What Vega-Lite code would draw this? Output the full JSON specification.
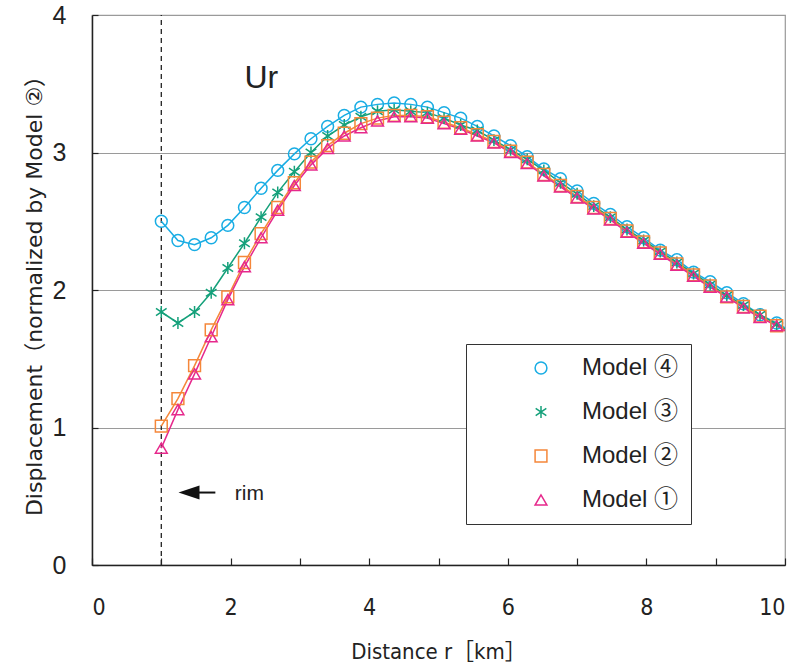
{
  "$schema": "https://vega.github.io/schema/vega-lite/v6.json",
  "width": 693,
  "height": 550,
  "autosize": {"type": "none"},
  "padding": {"left": 92, "top": 15, "right": 26, "bottom": 105},
  "background": "white",
  "datasets": {
    "ur": [
      {"r": 1.00, "Model ④": 2.50, "Model ③": 1.84, "Model ②": 1.01, "Model ①": 0.85},
      {"r": 1.24, "Model ④": 2.36, "Model ③": 1.76, "Model ②": 1.21, "Model ①": 1.13},
      {"r": 1.48, "Model ④": 2.33, "Model ③": 1.84, "Model ②": 1.45, "Model ①": 1.39},
      {"r": 1.72, "Model ④": 2.38, "Model ③": 1.98, "Model ②": 1.71, "Model ①": 1.66},
      {"r": 1.96, "Model ④": 2.47, "Model ③": 2.16, "Model ②": 1.95, "Model ①": 1.93},
      {"r": 2.20, "Model ④": 2.60, "Model ③": 2.34, "Model ②": 2.20, "Model ①": 2.17},
      {"r": 2.44, "Model ④": 2.74, "Model ③": 2.53, "Model ②": 2.41, "Model ①": 2.38},
      {"r": 2.68, "Model ④": 2.87, "Model ③": 2.71, "Model ②": 2.60, "Model ①": 2.58},
      {"r": 2.92, "Model ④": 2.99, "Model ③": 2.86, "Model ②": 2.78, "Model ①": 2.76},
      {"r": 3.16, "Model ④": 3.10, "Model ③": 3.00, "Model ②": 2.93, "Model ①": 2.91},
      {"r": 3.40, "Model ④": 3.19, "Model ③": 3.12, "Model ②": 3.05, "Model ①": 3.03},
      {"r": 3.64, "Model ④": 3.27, "Model ③": 3.20, "Model ②": 3.14, "Model ①": 3.12},
      {"r": 3.88, "Model ④": 3.33, "Model ③": 3.26, "Model ②": 3.21, "Model ①": 3.18},
      {"r": 4.12, "Model ④": 3.35, "Model ③": 3.30, "Model ②": 3.25, "Model ①": 3.23},
      {"r": 4.36, "Model ④": 3.36, "Model ③": 3.31, "Model ②": 3.27, "Model ①": 3.26},
      {"r": 4.60, "Model ④": 3.35, "Model ③": 3.30, "Model ②": 3.27, "Model ①": 3.26},
      {"r": 4.84, "Model ④": 3.33, "Model ③": 3.29, "Model ②": 3.26, "Model ①": 3.25},
      {"r": 5.08, "Model ④": 3.29, "Model ③": 3.25, "Model ②": 3.22, "Model ①": 3.21},
      {"r": 5.32, "Model ④": 3.25, "Model ③": 3.20, "Model ②": 3.18, "Model ①": 3.17},
      {"r": 5.56, "Model ④": 3.19, "Model ③": 3.16, "Model ②": 3.13, "Model ①": 3.12},
      {"r": 5.80, "Model ④": 3.12, "Model ③": 3.09, "Model ②": 3.08, "Model ①": 3.07},
      {"r": 6.04, "Model ④": 3.05, "Model ③": 3.02, "Model ②": 3.01, "Model ①": 3.00},
      {"r": 6.28, "Model ④": 2.97, "Model ③": 2.95, "Model ②": 2.93, "Model ①": 2.92},
      {"r": 6.52, "Model ④": 2.88, "Model ③": 2.87, "Model ②": 2.84, "Model ①": 2.83},
      {"r": 6.76, "Model ④": 2.81, "Model ③": 2.78, "Model ②": 2.76, "Model ①": 2.75},
      {"r": 7.00, "Model ④": 2.72, "Model ③": 2.70, "Model ②": 2.68, "Model ①": 2.67},
      {"r": 7.24, "Model ④": 2.63, "Model ③": 2.61, "Model ②": 2.60, "Model ①": 2.59},
      {"r": 7.48, "Model ④": 2.55, "Model ③": 2.53, "Model ②": 2.52, "Model ①": 2.51},
      {"r": 7.72, "Model ④": 2.46, "Model ③": 2.44, "Model ②": 2.43, "Model ①": 2.42},
      {"r": 7.96, "Model ④": 2.38, "Model ③": 2.36, "Model ②": 2.35, "Model ①": 2.34},
      {"r": 8.20, "Model ④": 2.29, "Model ③": 2.28, "Model ②": 2.27, "Model ①": 2.26},
      {"r": 8.44, "Model ④": 2.22, "Model ③": 2.20, "Model ②": 2.19, "Model ①": 2.18},
      {"r": 8.68, "Model ④": 2.13, "Model ③": 2.12, "Model ②": 2.11, "Model ①": 2.10},
      {"r": 8.92, "Model ④": 2.06, "Model ③": 2.04, "Model ②": 2.03, "Model ①": 2.02},
      {"r": 9.16, "Model ④": 1.98, "Model ③": 1.96, "Model ②": 1.95, "Model ①": 1.95},
      {"r": 9.40, "Model ④": 1.90, "Model ③": 1.89, "Model ②": 1.88, "Model ①": 1.87},
      {"r": 9.64, "Model ④": 1.82, "Model ③": 1.82, "Model ②": 1.81, "Model ①": 1.80},
      {"r": 9.88, "Model ④": 1.76, "Model ③": 1.75, "Model ②": 1.74, "Model ①": 1.74},
      {"r": 10.12, "Model ④": 1.69, "Model ③": 1.68, "Model ②": 1.67, "Model ①": 1.67}
    ]
  },
  "layer": [
    {
      "data": {"values": [{"r": 1}]},
      "mark": {"type": "rule", "color": "#222", "strokeWidth": 1.3, "strokeDash": [5, 4]},
      "encoding": {
        "x": {"field": "r", "type": "quantitative", "scale": {"domain": [0, 10], "nice": false},
          "axis": {"values": [0,1,2,3,4,5,6,7,8,9,10], "format": "d", "labelExpr": "datum.value % 2 == 0 ? datum.label : ''", "tickSize": -7, "tickWidth": 1.2, "grid": false, "labelPadding": 38, "labelFontSize": 23, "labelFont": "DejaVu Sans Condensed, DejaVu Sans", "title": "Distance r［km］", "titleFontSize": 22, "titleFont": "DejaVu Sans Condensed, DejaVu Sans, Noto Sans CJK JP", "titlePadding": 22}},
        "y": {"datum": 0, "type": "quantitative", "scale": {"domain": [0, 4], "nice": false},
          "axis": {"values": [0,1,2,3,4], "format": "d", "tickSize": -6, "tickWidth": 1.2, "grid": true, "gridColor": "#9a9a9a", "gridWidth": 1.2, "labelPadding": 32, "labelFontSize": 25, "labelFont": "Liberation Sans", "title": "Displacement（normalized by Model ②）", "titleFontSize": 22, "titleFont": "DejaVu Sans, Noto Sans CJK JP", "titlePadding": 6}},
        "y2": {"datum": 4}
      }
    },
    {
      "data": {"name": "ur"},
      "transform": [{"fold": ["Model ④", "Model ③", "Model ②", "Model ①"], "as": ["model", "val"]}],
      "layer": [
        {
          "mark": {"type": "line", "strokeWidth": 1.5, "clip": true},
          "encoding": {
            "x": {"field": "r", "type": "quantitative"},
            "y": {"field": "val", "type": "quantitative"},
            "color": {"field": "model", "type": "nominal",
              "scale": {"domain": ["Model ④", "Model ③", "Model ②", "Model ①"], "range": ["#19ade4", "#14a07a", "#f5873a", "#e6298c"]}}
          }
        },
        {
          "mark": {"type": "point", "filled": false, "strokeWidth": 1.5, "size": 140, "opacity": 1, "clip": true},
          "encoding": {
            "x": {"field": "r", "type": "quantitative"},
            "y": {"field": "val", "type": "quantitative"},
            "color": {"field": "model", "type": "nominal"},
            "shape": {"field": "model", "type": "nominal",
              "scale": {"domain": ["Model ④", "Model ③", "Model ②", "Model ①"], "range": ["circle", "M0,-1V1M-0.9,-0.6L0.9,0.6M-0.9,0.6L0.9,-0.6", "square", "triangle-up"]}}
          }
        }
      ]
    },
    {
      "data": {"values": [{"r1": 1.40, "r2": 1.78, "v": 0.527}]},
      "mark": {"type": "rule", "color": "#111", "strokeWidth": 2},
      "encoding": {
        "x": {"field": "r1", "type": "quantitative"},
        "x2": {"field": "r2"},
        "y": {"field": "v", "type": "quantitative"}
      }
    },
    {
      "data": {"values": [{"r": 1.40, "v": 0.527}]},
      "mark": {"type": "point", "shape": "M-1,0L1,-0.67L1,0.67Z", "size": 441, "filled": true, "color": "#111", "opacity": 1},
      "encoding": {
        "x": {"field": "r", "type": "quantitative"},
        "y": {"field": "v", "type": "quantitative"}
      }
    },
    {
      "data": {"values": [{"r": 2.06, "v": 0.52, "t": "rim"}, {"r": 2.2, "v": 3.54, "t": "Ur"}]},
      "mark": {"type": "text", "align": "left", "baseline": "middle", "font": "Liberation Sans", "color": "#222"},
      "encoding": {
        "x": {"field": "r", "type": "quantitative"},
        "y": {"field": "v", "type": "quantitative"},
        "text": {"field": "t"},
        "size": {"condition": {"test": "datum.t === 'Ur'", "value": 32}, "value": 21}
      }
    }
  ],
  "resolve": {"scale": {"shape": "shared", "color": "shared"}},
  "config": {
    "view": {"stroke": "#9a9a9a", "strokeWidth": 1.2},
    "axis": {"domainColor": "#222", "domainWidth": 1.5, "tickColor": "#222", "labelColor": "#222", "titleColor": "#222", "titleFontWeight": "normal"},
    "legend": {
      "title": null, "orient": "none", "legendX": 374, "legendY": 329,
      "strokeColor": "#333", "fillColor": "white", "padding": 12,
      "symbolSize": 140, "symbolStrokeWidth": 1.5, "symbolOffset": 51,
      "labelFontSize": 24, "labelFont": "Liberation Sans, Noto Sans CJK JP", "labelColor": "#222", "labelOffset": 29, "rowPadding": 20
    },
    "point": {"opacity": 1}
  }
}
